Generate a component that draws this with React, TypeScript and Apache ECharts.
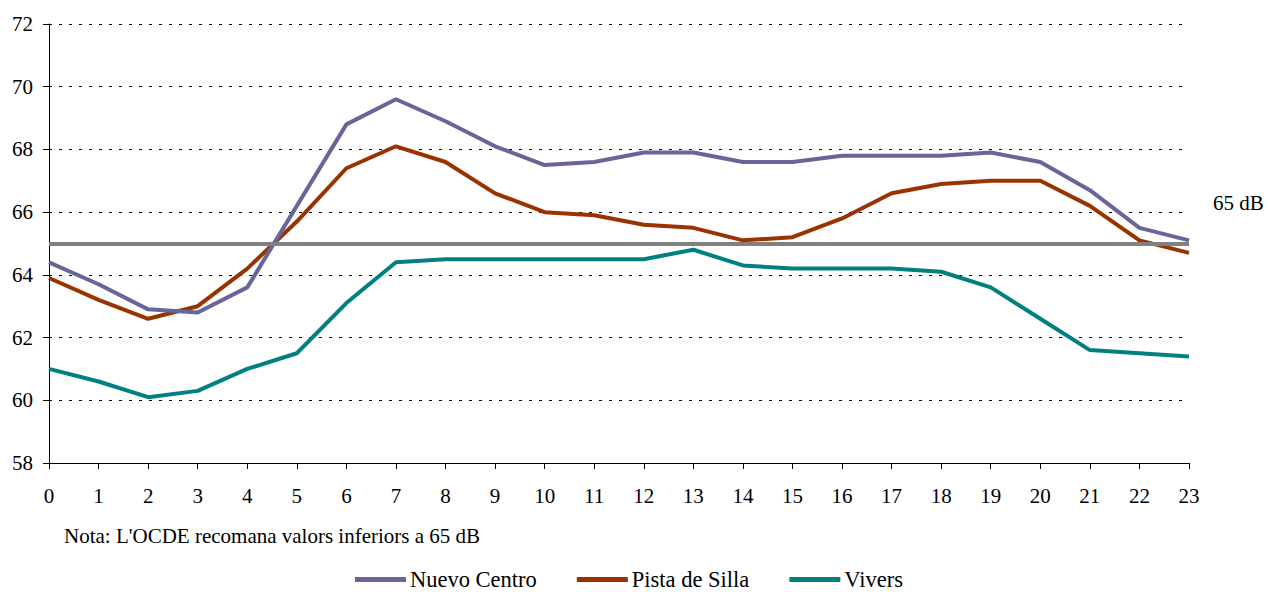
import React, { useEffect, useRef } from "react";
import * as echarts from "echarts";

const hours = ["0","1","2","3","4","5","6","7","8","9","10","11","12","13","14","15","16","17","18","19","20","21","22","23"];
const nuevoCentro = [64.4, 63.7, 62.9, 62.8, 63.6, 66.2, 68.8, 69.6, 68.9, 68.1, 67.5, 67.6, 67.9, 67.9, 67.6, 67.6, 67.8, 67.8, 67.8, 67.9, 67.6, 66.7, 65.5, 65.1];
const pistaDeSilla = [63.9, 63.2, 62.6, 63.0, 64.2, 65.7, 67.4, 68.1, 67.6, 66.6, 66.0, 65.9, 65.6, 65.5, 65.1, 65.2, 65.8, 66.6, 66.9, 67.0, 67.0, 66.2, 65.1, 64.7];
const vivers = [61.0, 60.6, 60.1, 60.3, 61.0, 61.5, 63.1, 64.4, 64.5, 64.5, 64.5, 64.5, 64.5, 64.8, 64.3, 64.2, 64.2, 64.2, 64.1, 63.6, 62.6, 61.6, 61.5, 61.4];
const limitValue = 65;
const limitLabel = "65 dB";
const noteText = "Nota: L'OCDE recomana valors inferiors a 65 dB";
const seriesNames = ["Nuevo Centro", "Pista de Silla", "Vivers"];
const colors = ["#666699", "#993300", "#008080"];

const FONT = "Liberation Serif";
const FS = 21;

export default function App() {
  const ref = useRef<HTMLDivElement>(null);
  useEffect(() => {
    if (!ref.current) return;
    const chart = echarts.init(ref.current, null, { renderer: "svg" });
    const datasets = [nuevoCentro, pistaDeSilla, vivers];
    chart.setOption({
      animation: false,
      grid: { left: 49, right: 79, top: 24, bottom: 129 },
      xAxis: {
        type: "category",
        data: hours,
        boundaryGap: false,
        axisLine: { lineStyle: { color: "#000", width: 1 } },
        axisTick: { show: true, alignWithLabel: true, length: 6, lineStyle: { color: "#000" } },
        axisLabel: { color: "#000", fontSize: FS, fontFamily: FONT, margin: 22, interval: 0 },
        splitLine: { show: false },
      },
      yAxis: {
        type: "value",
        min: 58,
        max: 72,
        interval: 2,
        axisLine: { show: true, lineStyle: { color: "#000", width: 1 } },
        axisTick: { show: true, length: 6, lineStyle: { color: "#000" } },
        axisLabel: { color: "#000", fontSize: FS, fontFamily: FONT, margin: 16 },
        splitLine: { show: true, lineStyle: { color: "#000", type: [3, 7], width: 1 } },
      },
      legend: {
        data: seriesNames,
        top: 563,
        left: 350,
        icon: "rect",
        itemWidth: 51,
        itemHeight: 5,
        itemGap: 40,
        textStyle: { color: "#000", fontSize: 22.5, fontFamily: FONT, padding: [0, 0, 0, -1] },
      },
      graphic: [
        {
          type: "text",
          left: 64,
          top: 525,
          style: { text: noteText, fill: "#000", fontSize: FS, fontFamily: FONT },
        },
      ],
      series: datasets.map((d, i) => ({
        name: seriesNames[i],
        type: "line",
        data: d,
        showSymbol: false,
        symbol: "none",
        z: 3 - i,
        lineStyle: { color: colors[i], width: 4 },
        itemStyle: { color: colors[i] },
        markLine:
          i === 0
            ? {
                silent: true,
                symbol: "none",
                z: 5,
                lineStyle: { color: "#808080", width: 4, type: "solid" },
                label: {
                  show: true,
                  position: "end",
                  formatter: limitLabel,
                  color: "#000",
                  fontSize: FS,
                  fontFamily: FONT,
                  distance: 24,
                  offset: [0, -41],
                },
                data: [{ yAxis: limitValue }],
              }
            : undefined,
      })),
    });
    return () => chart.dispose();
  }, []);
  return <div ref={ref} style={{ width: 1268, height: 592, position: "absolute", left: 0, top: 0 }} />;
}
